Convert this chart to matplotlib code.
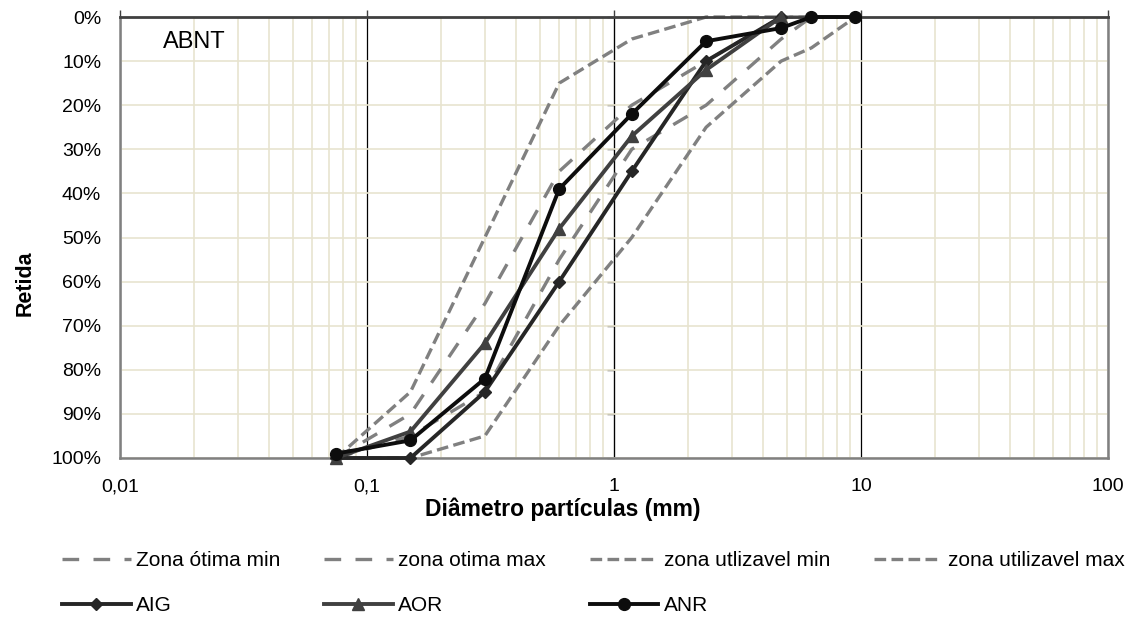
import matplotlib
matplotlib.use("Agg")
import matplotlib.pyplot as plt
from matplotlib.ticker import FixedLocator, FuncFormatter

plt.rcParams['font.family'] = ['Liberation Sans', 'DejaVu Sans']

# Sieve openings (mm)
sieves = [0.075, 0.15, 0.3, 0.6, 1.18, 2.36, 4.75, 6.3, 9.5]

# ABNT zones (retained fraction)
otima_min = [1.00, 0.90, 0.65, 0.35, 0.20, 0.10, 0.00, 0.00, 0.00]
otima_max = [1.00, 0.95, 0.85, 0.55, 0.30, 0.20, 0.05, 0.00, 0.00]
util_min = [1.00, 0.85, 0.50, 0.15, 0.05, 0.00, 0.00, 0.00, 0.00]
util_max = [1.00, 1.00, 0.95, 0.70, 0.50, 0.25, 0.10, 0.07, 0.00]

# Samples
sieves_s = [0.075, 0.15, 0.3, 0.6, 1.18, 2.36, 4.75]
aig = [1.00, 1.00, 0.85, 0.60, 0.35, 0.10, 0.00]
aor = [1.00, 0.94, 0.74, 0.48, 0.27, 0.12, 0.00]
sieves_anr = [0.075, 0.15, 0.3, 0.6, 1.18, 2.36, 4.75, 6.3, 9.5]
anr = [0.99, 0.96, 0.82, 0.39, 0.22, 0.055, 0.025, 0.00, 0.00]

x_ticks = [0.01, 0.1, 1, 10, 100]
x_labels = ["0,01", "0,1", "1", "10", "100"]
y_ticks = [0.0, 0.1, 0.2, 0.3, 0.4, 0.5, 0.6, 0.7, 0.8, 0.9, 1.0]

fig = plt.figure(figsize=(11.34, 6.18), dpi=100)
ax = fig.add_axes([120/1134, 1-458/618, 988/1134, 441/618])

ax.set_xscale('log')
ax.set_xlim(0.01, 100)
ax.set_ylim(1.0, 0.0)

beige = '#e8e4cf'
gray_dash = '#808080'

# grid
ax.xaxis.set_major_locator(FixedLocator(x_ticks))
minors = [m * d for d in [0.01, 0.1, 1, 10] for m in range(2, 10)]
ax.xaxis.set_minor_locator(FixedLocator(minors))
ax.grid(True, which='minor', axis='x', color=beige, lw=1.2, zorder=0)
ax.grid(True, which='major', axis='x', color='black', lw=0.9, zorder=0.5)
ax.yaxis.set_major_locator(FixedLocator(y_ticks))
ax.grid(True, which='major', axis='y', color=beige, lw=1.2, zorder=0)
ax.set_axisbelow(True)

lw_d = 2.4
l1, = ax.plot(sieves, otima_min, color=gray_dash, lw=lw_d, dashes=(5, 4.3), label='Zona ótima min', zorder=2)
l2, = ax.plot(sieves, otima_max, color=gray_dash, lw=lw_d, dashes=(5, 4.3), label='zona otima max', zorder=2)
l3, = ax.plot(sieves, util_min, color=gray_dash, lw=lw_d, dashes=(3.5, 1.6), label='zona utlizavel min', zorder=2)
l4, = ax.plot(sieves, util_max, color=gray_dash, lw=lw_d, dashes=(3.5, 1.6), label='zona utilizavel max', zorder=2)

lw_s = 2.8
l5, = ax.plot(sieves_s, aig, color='#262626', lw=lw_s, marker='D', ms=6, label='AIG', zorder=3)
l6, = ax.plot(sieves_s, aor, color='#404040', lw=lw_s, marker='^', ms=9, label='AOR', zorder=4)
l7, = ax.plot(sieves_anr, anr, color='#0d0d0d', lw=lw_s, marker='o', ms=8.5, label='ANR', zorder=5)

for l in (l1, l2, l3, l4, l5, l6, l7):
    l.set_clip_on(False)

# spines
for s in ('left', 'right', 'bottom'):
    ax.spines[s].set_color('#808080')
    ax.spines[s].set_linewidth(1.8)
ax.spines['top'].set_color('#404040')
ax.spines['top'].set_linewidth(2.0)

ax.tick_params(axis='x', which='major', top=True, bottom=False, labeltop=False,
               labelbottom=True, direction='out', length=5, width=1, color='#404040',
               labelsize=14, pad=9.5)
ax.tick_params(axis='x', which='minor', top=False, bottom=False)
ax.xaxis.set_major_formatter(FuncFormatter(lambda v, p: x_labels[x_ticks.index(v)] if v in x_ticks else ''))
ax.tick_params(axis='y', which='both', left=False, right=False, labelsize=14, pad=10)
ax.yaxis.set_major_formatter(FuncFormatter(lambda v, p: f"{round(v*100):d}%"))

# y tick marks on vertical axis at x=1
sec = ax.secondary_yaxis(0.5)
sec.yaxis.set_major_locator(FixedLocator(y_ticks))
sec.tick_params(axis='y', direction='in', length=5, width=1, color='#404040', labelleft=False, labelright=False)
sec.spines['left'].set_color('black')
sec.spines['left'].set_linewidth(0.9)

ax.text(0.0435, 0.943, 'ABNT', transform=ax.transAxes, fontsize=17, va='center', ha='left')

fig.text(563/1134, 1-509/618, 'Diâmetro partículas (mm)', fontsize=16.5, fontweight='bold', ha='center', va='center')
fig.text(25/1134, 1-283/618, 'Retida', fontsize=15.5, fontweight='bold', ha='center', va='center', rotation=90)

handles = [l1, l5, l2, l6, l3, l7, l4]
leg = fig.legend(handles=handles, labels=[h.get_label() for h in handles], ncol=4,
                 loc='upper left', bbox_to_anchor=(62/1134, 1-551/618), frameon=False,
                 fontsize=15, handlelength=3.3, handletextpad=0.25, columnspacing=2.1,
                 labelspacing=1.25, borderaxespad=0, borderpad=0)

fig.savefig('out.png', dpi=100)
